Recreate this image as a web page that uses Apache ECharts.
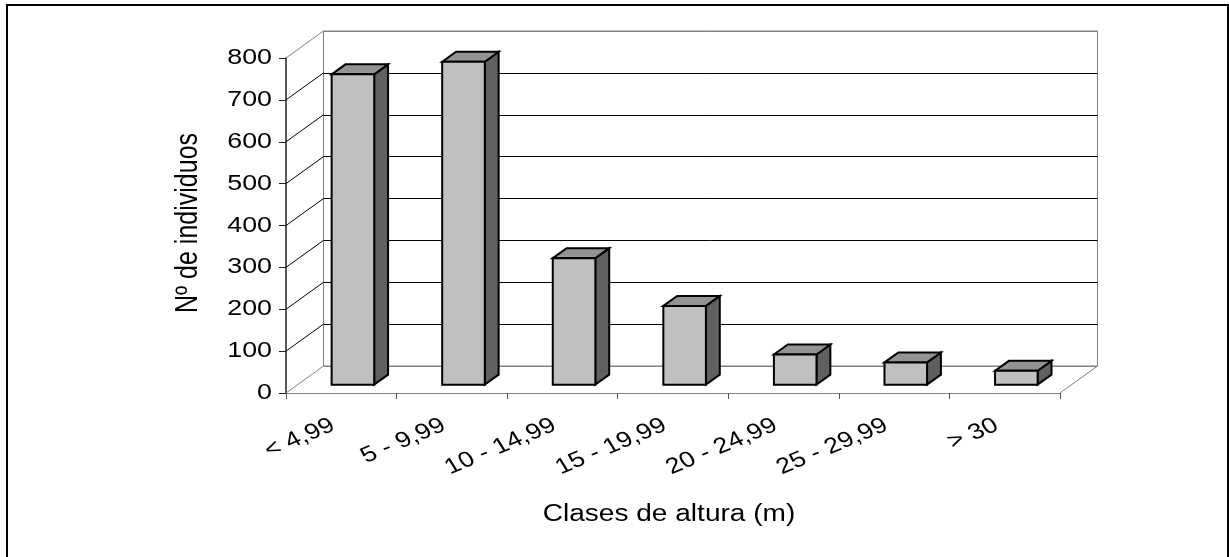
<!DOCTYPE html>
<html>
<head>
<meta charset="utf-8">
<title>Clases de altura</title>
<script src="https://cdn.jsdelivr.net/npm/echarts@6/dist/echarts.min.js"></script>
<style>
  html, body { margin: 0; padding: 0; background: #fff; }
  #chart { width: 1229px; height: 557px; }
</style>
</head>
<body>
<div id="chart"></div>
<script>
// Height classes and number of trees in each
const categories = ['< 4,99', '5 - 9,99', '10 - 14,99', '15 - 19,99', '20 - 24,99', '25 - 29,99', '> 30'];
const individuos = [741, 771, 302, 188, 72, 53, 33];
const yTicks = [0, 100, 200, 300, 400, 500, 600, 700, 800];
const xTitle = 'Clases de altura (m)';
const yTitle = 'Nº de individuos';

// Pseudo-3D geometry: the back wall sits DEPTH px behind the front plane
const DEPTH = [37.5, -27];
const BAR_FRONT = 0.31;   // bar front face, as a fraction of the wall depth
const BAR_DEPTH = 0.37;   // bar thickness, as a fraction of the wall depth
const FRONT = { left: 286, top: 58, width: 774, height: 335 };
const FONT = '"Liberation Sans", Arial, sans-serif';
const TEXT_STRETCH = 1.22;           // wide lettering, stretched horizontally
const X_LABEL_ANGLE = 27 * Math.PI / 180;

const chart = echarts.init(document.getElementById('chart'), null, { renderer: 'canvas' });

// split-line colours: floor and top edges grey, inner lines black
const backLineColors = yTicks.map((v, i) => (i === 0 || i === yTicks.length - 1) ? '#808080' : '#000000');

function catLeft(api, idx) {
  return api.coord([idx, 0])[0] - api.size([1, 0])[0] / 2;
}

// side wall lines (left) and the right edge of the floor
function renderWalls(params, api) {
  const v = api.value(0);
  const p = api.coord([0, v]);
  const xl = catLeft(api, 0);
  const edge = (v === 0 || v === yTicks[yTicks.length - 1]);
  const children = [{
    type: 'line',
    shape: { x1: xl, y1: p[1], x2: xl + DEPTH[0], y2: p[1] + DEPTH[1] },
    style: { stroke: edge ? '#808080' : '#000000', lineWidth: 1 }
  }];
  if (v === 0) {
    const last = categories.length - 1;
    const xr = api.coord([last, 0])[0] + api.size([1, 0])[0] / 2;
    children.push({
      type: 'line',
      shape: { x1: xr, y1: p[1], x2: xr + DEPTH[0], y2: p[1] + DEPTH[1] },
      style: { stroke: '#808080', lineWidth: 1 }
    });
  }
  // value label left of the tick
  children.push({
    type: 'text',
    x: xl - 14, y: p[1],
    scaleX: TEXT_STRETCH,
    style: {
      text: String(v), fontFamily: FONT, fontSize: 22, fill: '#000',
      align: 'right', verticalAlign: 'middle'
    }
  });
  return { type: 'group', children };
}

// slanted category labels under the floor
function renderCatLabels(params, api) {
  const i = api.value(0);
  const p = api.coord([i, 0]);
  return {
    type: 'group',
    x: p[0] - 8, y: p[1] + 31,
    scaleX: TEXT_STRETCH,
    children: [{
      type: 'text',
      rotation: X_LABEL_ANGLE,
      style: {
        text: categories[i], fontFamily: FONT, fontSize: 22, fill: '#000',
        align: 'right', verticalAlign: 'middle'
      }
    }]
  };
}

// box-shaped bar: side face, top face and front face
function renderBar(params, api) {
  const i = api.value(0);
  const v = api.value(1);
  const base = api.coord([i, 0]);
  const top = api.coord([i, v]);
  const w = api.size([1, 0])[0] * 0.385;
  const fx = DEPTH[0] * BAR_FRONT, fy = DEPTH[1] * BAR_FRONT;
  const dx = DEPTH[0] * BAR_DEPTH, dy = DEPTH[1] * BAR_DEPTH;
  const x0 = base[0] - w / 2 + fx;
  const x1 = x0 + w;
  const yb = base[1] + fy;
  const yt = top[1] + fy;
  const stroke = { stroke: '#000000', lineWidth: 2, lineJoin: 'miter' };
  return {
    type: 'group',
    children: [
      {
        type: 'polygon',
        shape: { points: [[x1, yt], [x1 + dx, yt + dy], [x1 + dx, yb + dy], [x1, yb]] },
        style: Object.assign({ fill: '#606060' }, stroke)
      },
      {
        type: 'polygon',
        shape: { points: [[x0, yt], [x0 + dx, yt + dy], [x1 + dx, yt + dy], [x1, yt]] },
        style: Object.assign({ fill: '#939393' }, stroke)
      },
      {
        type: 'rect',
        shape: { x: x0, y: yt, width: w, height: yb - yt },
        style: Object.assign({ fill: '#C0C0C0' }, stroke)
      }
    ]
  };
}

const option = {
  backgroundColor: '#ffffff',
  animation: false,
  textStyle: { fontFamily: FONT, color: '#000' },
  graphic: [
    {
      type: 'rect',
      shape: { x: 7, y: 5, width: 1221, height: 620 },
      style: { fill: 'none', stroke: '#000', lineWidth: 2 },
      z: 100
    },
    {
      type: 'text',
      x: 669, y: 515,
      scaleX: TEXT_STRETCH,
      style: { text: xTitle, fontFamily: FONT, fontSize: 23, fill: '#000', align: 'center', verticalAlign: 'middle' }
    },
    {
      type: 'text',
      x: 189, y: 223,
      rotation: Math.PI / 2,
      scaleY: TEXT_STRETCH,
      style: { text: yTitle, fontFamily: FONT, fontSize: 25, fill: '#000', align: 'center', verticalAlign: 'middle' }
    }
  ],
  grid: [
    // front plane
    { left: FRONT.left, top: FRONT.top, width: FRONT.width, height: FRONT.height },
    // back wall
    {
      left: FRONT.left + DEPTH[0], top: FRONT.top + DEPTH[1],
      width: FRONT.width, height: FRONT.height,
      show: true, borderColor: '#808080', borderWidth: 1, backgroundColor: '#fff'
    }
  ],
  xAxis: [
    {
      gridIndex: 0,
      type: 'category',
      data: categories,
      boundaryGap: true,
      axisLine: { lineStyle: { color: '#808080', width: 1 } },
      axisTick: { show: true, length: 6, lineStyle: { color: '#555', width: 1 } },
      axisLabel: { show: false }
    },
    {
      gridIndex: 1,
      type: 'category',
      data: categories,
      show: false
    }
  ],
  yAxis: [
    {
      gridIndex: 0,
      type: 'value',
      min: 0, max: 800, interval: 100,
      axisLine: { show: true, lineStyle: { color: '#222', width: 1.5 } },
      axisTick: { show: true, length: 7, lineStyle: { color: '#222', width: 1 } },
      axisLabel: { show: false },
      splitLine: { show: false }
    },
    {
      gridIndex: 1,
      type: 'value',
      min: 0, max: 800, interval: 100,
      axisLine: { show: false },
      axisTick: { show: false },
      axisLabel: { show: false },
      splitLine: { show: true, lineStyle: { color: backLineColors, width: 1 } }
    }
  ],
  series: [
    {
      type: 'custom',
      name: 'paredes',
      xAxisIndex: 0, yAxisIndex: 0,
      renderItem: renderWalls,
      data: yTicks.map(v => [v]),
      encode: { y: 0 },
      silent: true,
      clip: false,
      z: 1
    },
    {
      type: 'custom',
      name: 'clases',
      xAxisIndex: 0, yAxisIndex: 0,
      renderItem: renderCatLabels,
      data: categories.map((c, i) => [i]),
      encode: { x: 0 },
      silent: true,
      clip: false,
      z: 1
    },
    {
      type: 'custom',
      name: 'individuos',
      xAxisIndex: 0, yAxisIndex: 0,
      renderItem: renderBar,
      data: individuos.map((v, i) => [i, v]),
      encode: { x: 0, y: 1 },
      z: 5
    }
  ]
};

chart.setOption(option);
</script>
</body>
</html>
